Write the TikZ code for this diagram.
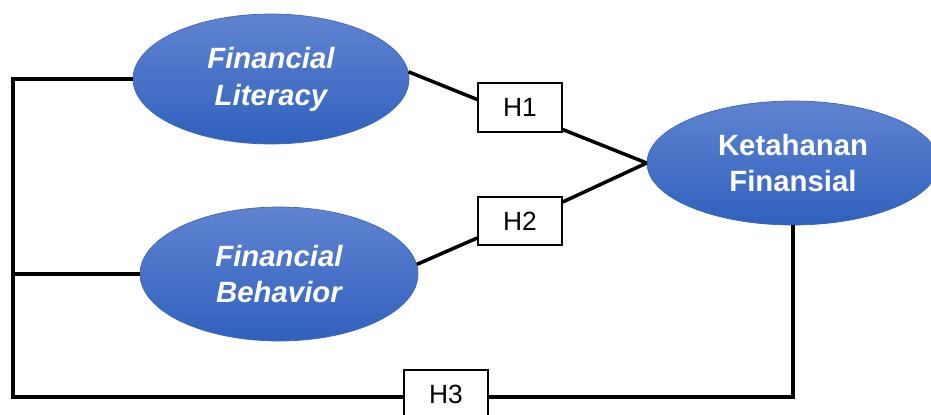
\documentclass[tikz,border=0pt]{standalone}
\usepackage{fontspec}
\setmainfont{Liberation Sans}
\usepackage{xcolor}
\usetikzlibrary{shapes.geometric,calc}
\definecolor{ovaltop}{RGB}{96,131,208}
\definecolor{ovalbot}{RGB}{48,97,190}
\definecolor{ovalline}{RGB}{62,102,182}
\tikzset{
  oval/.style={ellipse,top color=ovaltop,bottom color=ovalbot,draw=ovalline,line width=0.4pt,
    text=white,font=\fontsize{16.7}{21}\selectfont\bfseries,align=center,inner sep=0pt},
  hypo/.style={draw,line width=0.9pt,fill=white,minimum width=1.68cm,minimum height=0.97cm,
    inner sep=0pt,font=\fontsize{15}{18}\selectfont},
  link/.style={line width=2pt}
}

\begin{document}
\begin{tikzpicture}[x=0.02cm,y=0.02cm]
\useasboundingbox (0,0) rectangle (931,414);
\node[oval,minimum width=5.52cm,minimum height=2.6cm] (fl) at (271,335) {\itshape Financial\\\itshape Literacy};
\node[oval,minimum width=5.56cm,minimum height=2.68cm] (fb) at (279,140) {\itshape Financial\\\itshape Behavior};
\node[oval,minimum width=5.84cm,minimum height=2.48cm] (kf) at (793,251) {Ketahanan\\Finansial};

\node[hypo] (h1) at (520,306.5) {H1};
\node[hypo] (h2) at (520,193) {H2};
\node[hypo] (h3) at (446,20) {H3};

\coordinate (tl) at (13,337);
\coordinate (bl) at (13,17);

\draw[link] (fl.3) -- ($(h1.west)+(0,8)$);
\draw[link] ($(h1.south east)+(0,3)$) -- (kf.west);
\draw[link] ($(h2.north east)+(0,-6)$) -- (kf.west);
\draw[link] ($(h2.west)+(0,-17)$) -- (fb.4);

\draw[link] (fl.west) -- (fl.west -| tl) -- (bl) -- (bl -| h3.west);
\draw[link] (fb.west) -- (fb.west -| tl);
\draw[link] (bl -| h3.east) -- (bl -| kf.south) -- (kf.south);
\end{tikzpicture}
\end{document}
